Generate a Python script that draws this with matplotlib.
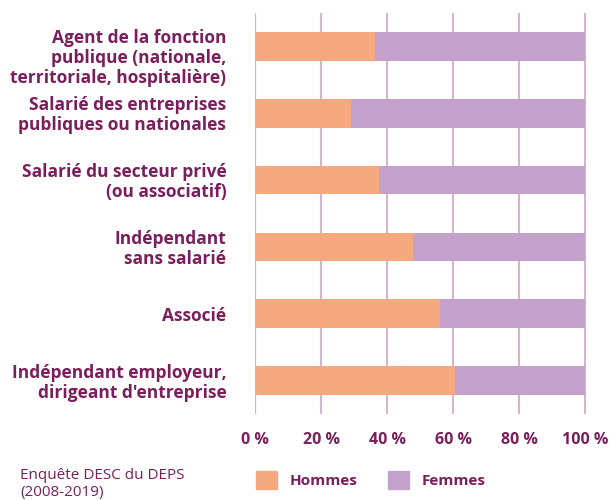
import matplotlib.pyplot as plt
from matplotlib.patches import Patch

categories = [
    "Agent de la fonction\npublique (nationale,\nterritoriale, hospitalière)",
    "Salarié des entreprises\npubliques ou nationales",
    "Salarié du secteur privé\n(ou associatif)",
    "Indépendant\nsans salarié",
    "Associé",
    "Indépendant employeur,\ndirigeant d'entreprise",
]
hommes = [36.4, 29.1, 37.5, 47.7, 56.0, 60.4]
femmes = [100 - h for h in hommes]
ticks = [0, 20, 40, 60, 80, 100]
tick_labels = ["0 %", "20 %", "40 %", "60 %", "80 %", "100 %"]

c_h = "#F6A87E"
c_f = "#C4A1CA"
c_txt = "#7A1E5C"
c_grid = "#D3B6CE"

plt.rcParams["font.family"] = ["Open Sans", "DejaVu Sans"]

fig = plt.figure(figsize=(6.09, 5), dpi=100)
ax = fig.add_axes([255.3 / 609, 1 - 414 / 500, 331.7 / 609, 401 / 500])

y = list(range(len(categories)))
ax.barh(y, hommes, height=0.43, color=c_h, zorder=2)
ax.barh(y, femmes, left=hommes, height=0.43, color=c_f, zorder=2)

ax.set_xlim(0, 100.5)
ax.set_ylim(5.5, -0.5)
ax.set_xticks(ticks)
ax.set_xticklabels(tick_labels, fontsize=11.5, fontweight="bold", color=c_txt)
ax.set_yticks([])
ax.tick_params(axis="x", length=0, pad=13)
for s in ax.spines.values():
    s.set_visible(False)
ax.grid(axis="x", color=c_grid, linewidth=1.5, zorder=0)
ax.axvline(0, color="#A9809F", linewidth=1.5, zorder=1)

# category labels, right-aligned left of the axis
for yi, lab in zip(y, categories):
    dy = 0.17 if lab.count("\n") == 2 else 0.03
    ax.text(-29 / 331.7, yi + dy, lab, transform=ax.get_yaxis_transform(),
            ha="right", va="center", ma="right", fontsize=12.5,
            fontweight="bold", color=c_txt, linespacing=1.15)

handles = [Patch(color=c_h, label="Hommes"), Patch(color=c_f, label="Femmes")]
leg = fig.legend(handles=handles, loc="center left", ncol=2, frameon=False,
                 bbox_to_anchor=(242 / 609, 1 - 480 / 500),
                 handlelength=1.4, handleheight=1.4, columnspacing=2.0,
                 handletextpad=0.8, prop={"size": 11, "weight": "bold"})
for t in leg.get_texts():
    t.set_color(c_txt)

fig.text(20 / 609, 1 - 484 / 500, "Enquête DESC du DEPS\n(2008-2019)",
         fontsize=11, color=c_txt, va="center", linespacing=1.25)

fig.savefig("out.png", dpi=100)
